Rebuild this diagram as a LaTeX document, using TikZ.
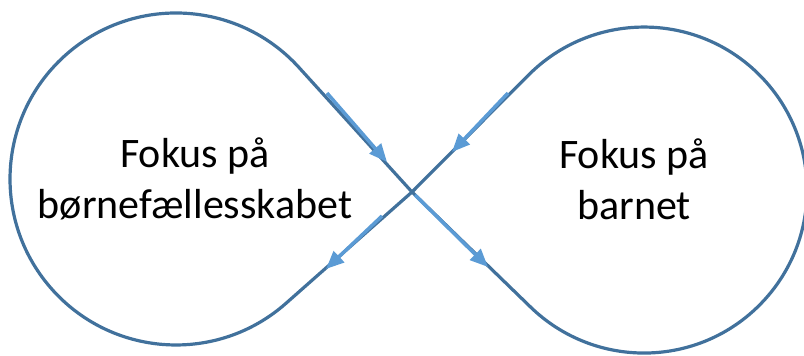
\documentclass[tikz,border=0pt]{standalone}
\usepackage{fontspec}
\setmainfont{Carlito}
\usetikzlibrary{arrows.meta}
\definecolor{loopblue}{HTML}{41719C}
\definecolor{flowblue}{HTML}{5B9BD5}

\begin{document}
\begin{tikzpicture}
        [x=1pt, y=1pt, every node/.style={align=center, inner sep=0, font=\fontsize{42}{51}\selectfont},
        loopline/.style={line width=3.2pt, draw=loopblue, line join=round},
        flowarrow/.style={line width=3.5pt, draw=flowblue, -{Triangle[length=18pt,width=15pt]}}]

        \useasboundingbox (0, 0) rectangle (804, 356);

        \coordinate (x) at (412, 164);
        \coordinate (t1) at (298.9, 288.6);
        \coordinate (t3) at (530.5, 49.0);

        % the two loops
        \draw[loopline] (x) -- (t1) arc[start angle=42.24, end angle=311.46, radius=166pt] -- cycle;
        \draw[loopline] (x) -- (t3) arc[start angle=225.85, end angle=495.13, radius=163pt] -- cycle;

        \node (fokusleft) at (195, 177) {Fokus på\\børnefællesskabet};
        \node (fokusright) at (634, 177) {Fokus på\\barnet};

        \coordinate (a1) at (327, 263);
        \coordinate (b1) at (387, 194);
        \coordinate (a2) at (508, 263);
        \coordinate (b2) at (452, 204);
        \coordinate (a3) at (382, 140);
        \coordinate (b3) at (326, 87);
        \coordinate (a4) at (415, 161);
        \coordinate (b4) at (488, 89);

        \draw[flowarrow] (a1) -- (b1);
        \draw[flowarrow] (a2) -- (b2);
        \draw[flowarrow] (a3) -- (b3);
        \draw[flowarrow] (a4) -- (b4);

      \end{tikzpicture}
\end{document}
